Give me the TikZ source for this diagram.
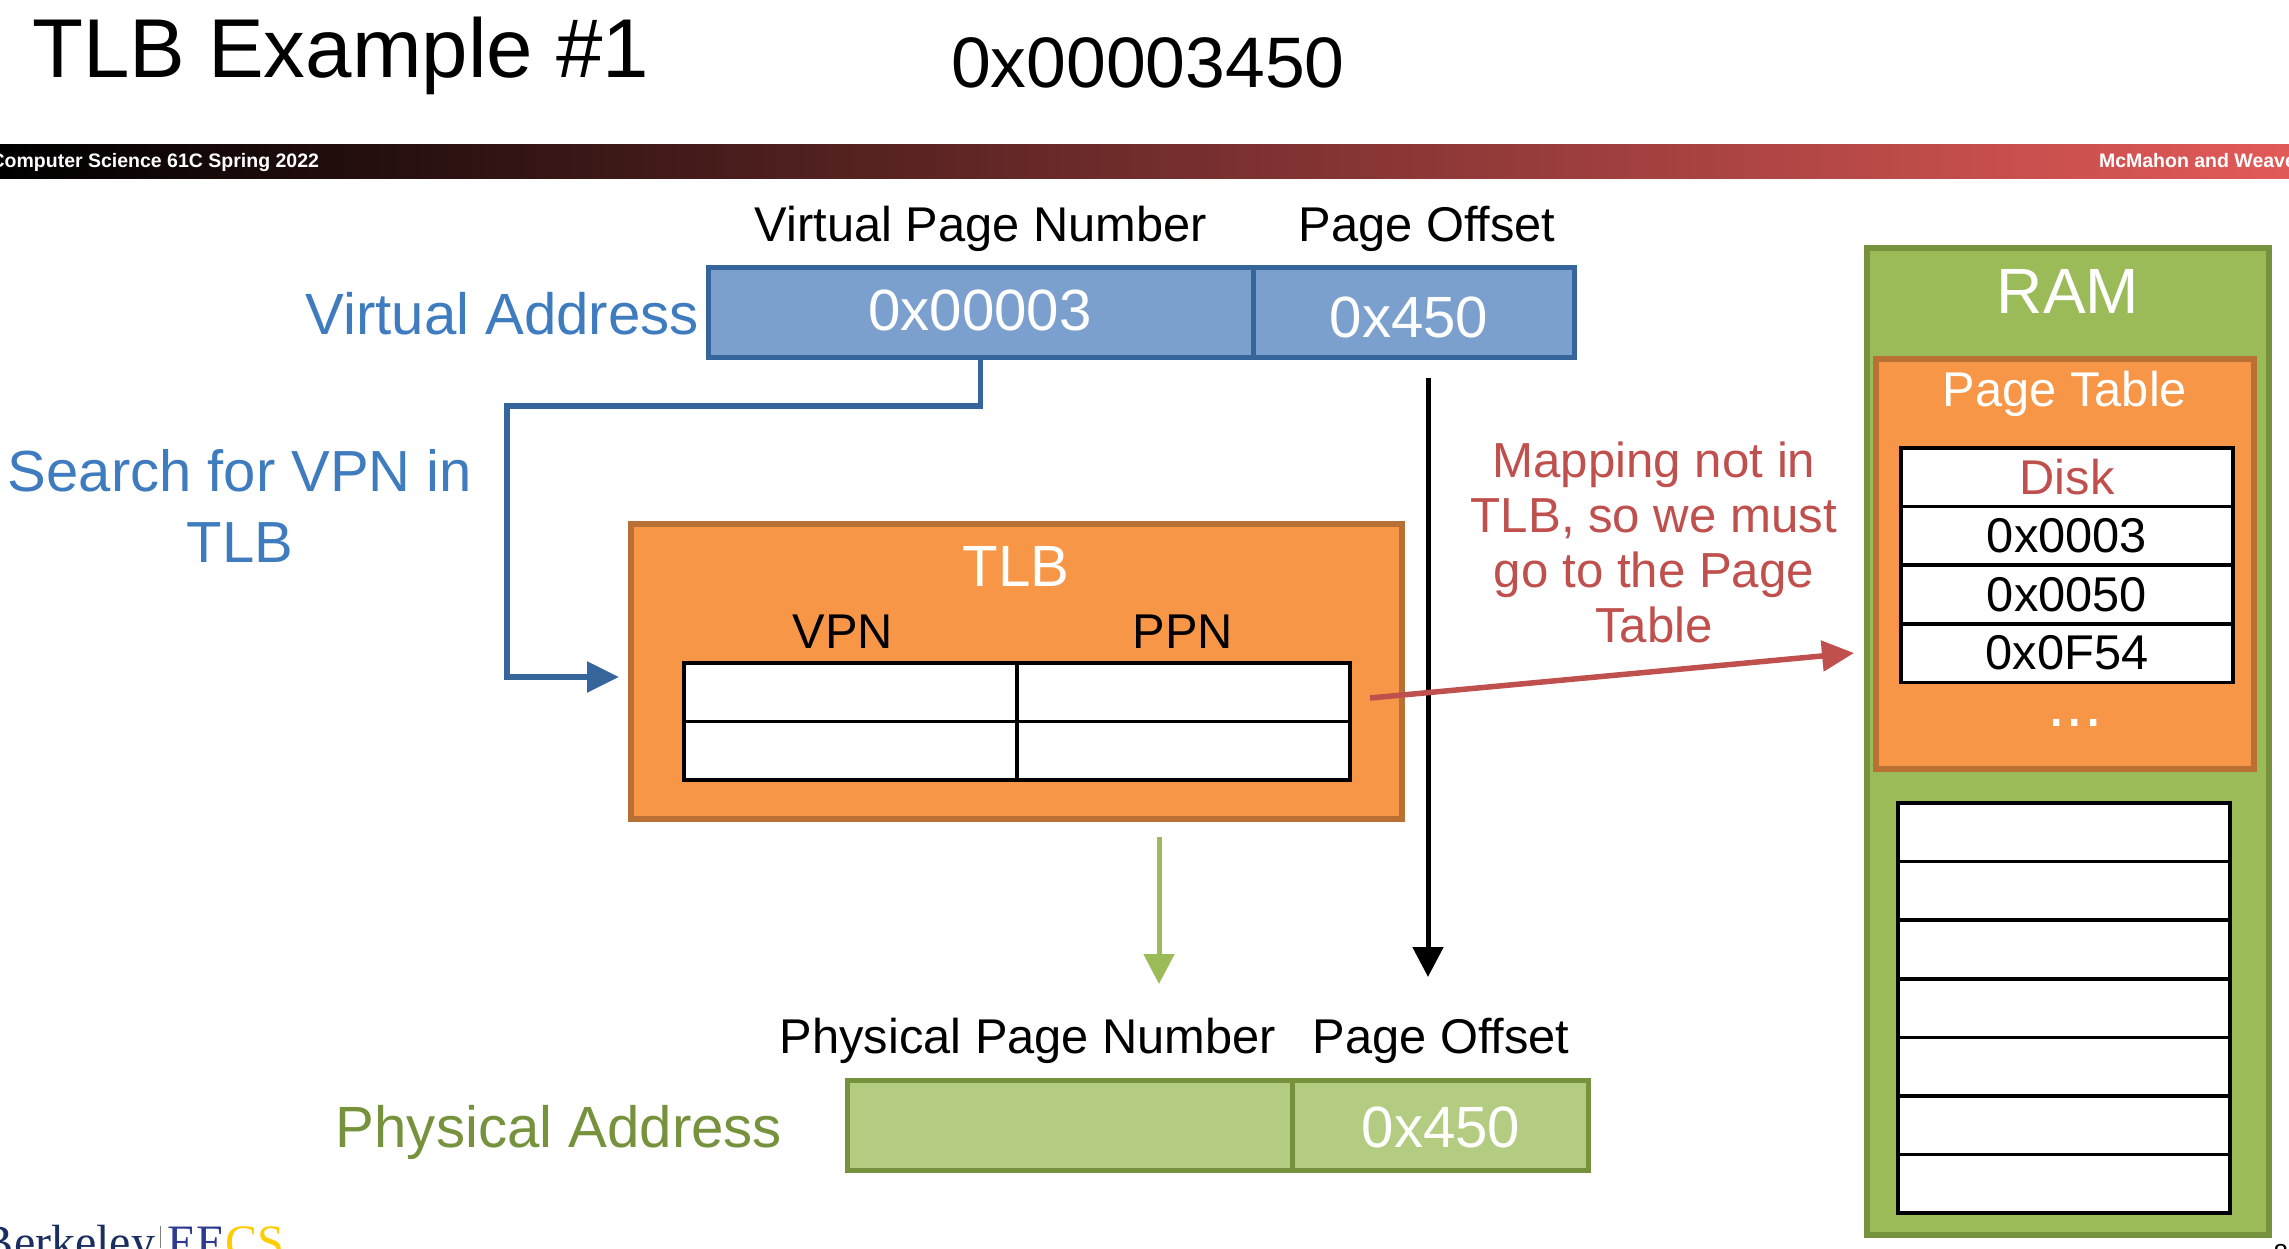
\documentclass[tikz,border=0pt]{standalone}
\usepackage{fontspec}
\setmainfont{Liberation Sans}
\newfontfamily\logofont{Liberation Serif}
\usepackage{xcolor}
\usetikzlibrary{arrows.meta, positioning}
\definecolor{vaBlue}{HTML}{7BA0CD}
\definecolor{vaEdge}{HTML}{35659A}
\definecolor{vaText}{HTML}{3F7CBF}
\definecolor{tlbOrange}{HTML}{F79646}
\definecolor{tlbEdge}{HTML}{B97034}
\definecolor{ramGreen}{HTML}{9BBB59}
\definecolor{ramEdge}{HTML}{76923C}
\definecolor{paGreen}{HTML}{B3CC82}
\definecolor{missRed}{HTML}{C0504D}
\definecolor{barRed}{HTML}{E25A58}
\definecolor{logoNavy}{HTML}{1A2F5F}
\definecolor{logoBlue}{HTML}{2E3A8F}
\definecolor{logoGold}{HTML}{FFCC00}

\begin{document}
\begin{tikzpicture}[
x=1pt, y=-1pt,
bigtext/.style={inner sep=0pt, outer sep=0pt, font=\fontsize{58.2}{71}\selectfont},
midtext/.style={inner sep=0pt, outer sep=0pt, font=\fontsize{48.8}{55}\selectfont},
bartext/.style={inner sep=0pt, outer sep=0pt, text=white, font=\fontsize{19.5}{24}\selectfont\bfseries},
logotext/.style={inner sep=0pt, outer sep=0pt, anchor=base west, font=\fontsize{48}{50}\selectfont\logofont},
vafield/.style={rectangle, draw=vaEdge, fill=vaBlue, line width=5pt, outer sep=0pt, inner sep=0pt, minimum height=90pt},
pafield/.style={rectangle, draw=ramEdge, fill=paGreen, line width=5pt, outer sep=0pt, inner sep=0pt, minimum height=90pt},
hugebox/.style={rectangle, line width=6pt, outer sep=0pt, inner sep=0pt},
tablecell/.style={rectangle, draw=black, fill=white, line width=3.5pt, outer sep=0pt, inner sep=0pt, minimum width=332pt, minimum height=58.6pt, font=\fontsize{48.8}{55}\selectfont}
]
	\clip (0,0) rectangle (2289,1248);
	\fill[white] (0,0) rectangle (2289,1248);

	\node[inner sep=0pt, outer sep=0pt, anchor=west, font=\fontsize{83.5}{90}\selectfont] (title) at (32,56) {TLB Example \#1};
	\node[inner sep=0pt, outer sep=0pt, font=\fontsize{71.5}{80}\selectfont] (addr) at (1148,63) {0x00003450};

	\node[rectangle, left color=black, right color=barRed, draw=none, outer sep=0pt, minimum width=2289pt, minimum height=34pt, anchor=north west] (bar) at (0,144) {};
	\node[bartext, anchor=east] (course) at (319,162) {Computer Science 61C Spring 2022};
	\node[bartext, anchor=west] (staff) at (2099,161) {McMahon and Weaver};

	\node[midtext] (vpnlabel) at (981,229) {Virtual Page Number};
	\node[midtext] (vpolabel) at (1427,229) {Page Offset};
	\node[vafield, minimum width=545pt, anchor=north west] (vpn) at (708,267) {};
	\node[vafield, minimum width=321pt, anchor=west] (vpo) at (vpn.east) {};
	\node[bigtext, text=white] (vpnvalue) at (980,310) {0x00003};
	\node[bigtext, text=white] (vpovalue) at (1409,317) {0x450};
	\node[bigtext, text=vaText, anchor=east] (valabel) at (699,314) {Virtual Address};
	\node[inner sep=0pt, outer sep=0pt, text=vaText, align=center, font=\fontsize{58}{71}\selectfont] (search) at (240,506) {Search for VPN in\\TLB};

	\node[hugebox, draw=tlbEdge, fill=tlbOrange, minimum width=771pt, minimum height=295pt, anchor=north west] (tlb) at (631,524) {};
	\node[bigtext, text=white] (tlbtitle) at (1016,566) {TLB};
	\node[midtext] (vpnhead) at (843,632) {VPN};
	\node[midtext] (ppnhead) at (1183,632) {PPN};
	\node[tablecell, minimum width=333pt, anchor=north west] (tlb1) at (684,663) {};
	\node[tablecell, minimum width=333pt, anchor=north west] (tlb2) at (tlb1.south west) {};
	\node[tablecell, minimum width=333pt, anchor=north west] (tlb3) at (tlb1.north east) {};
	\node[tablecell, minimum width=333pt, anchor=north west] (tlb4) at (tlb3.south west) {};

	\node[midtext] (ppnlabel) at (1028,1041) {Physical Page Number};
	\node[midtext] (ppolabel) at (1441,1041) {Page Offset};
	\node[pafield, minimum width=445pt, anchor=north west] (ppn) at (847,1080) {};
	\node[pafield, minimum width=296pt, anchor=west] (ppo) at (ppn.east) {};
	\node[bigtext, text=white] (ppovalue) at (1441,1127) {0x450};
	\node[bigtext, text=ramEdge] (palabel) at (559,1132) {Physical Address};

	\node[inner sep=0pt, outer sep=0pt, text=missRed, align=center, font=\fontsize{49.2}{55}\selectfont] (miss) at (1654,542) {Mapping not in\\TLB, so we must\\go to the Page\\Table};

	\node[hugebox, draw=ramEdge, fill=ramGreen, minimum width=402pt, minimum height=987pt, anchor=north west] (ram) at (1867,248) {};
	\node[inner sep=0pt, outer sep=0pt, text=white, font=\fontsize{64}{70}\selectfont] (ramtitle) at (2068,291) {RAM};
	\node[hugebox, draw=tlbEdge, fill=tlbOrange, minimum width=378pt, minimum height=410pt, anchor=north west] (pt) at (1876,359) {};
	\node[midtext, text=white] (pttitle) at (2065,394) {Page Table};
	\node[tablecell, text=missRed, anchor=north west] (pt1) at (1901,448) {Disk};
	\node[tablecell, anchor=north] (pt2) at (pt1.south) {0x0003};
	\node[tablecell, anchor=north] (pt3) at (pt2.south) {0x0050};
	\node[tablecell, anchor=north] (pt4) at (pt3.south) {0x0F54};
	\node[inner sep=0pt, outer sep=0pt, text=white, font=\fontsize{66}{70}\selectfont] (ptdots) at (2075,723) {...};

	\node[tablecell, anchor=north west] (mem1) at (1898,803) {};
	\node[tablecell, anchor=north] (mem2) at (mem1.south) {};
	\node[tablecell, anchor=north] (mem3) at (mem2.south) {};
	\node[tablecell, anchor=north] (mem4) at (mem3.south) {};
	\node[tablecell, anchor=north] (mem5) at (mem4.south) {};
	\node[tablecell, anchor=north] (mem6) at (mem5.south) {};
	\node[tablecell, anchor=north] (mem7) at (mem6.south) {};

	\node[logotext, text=logoNavy] (berkeley) at (-18,1258) {Berkeley};
	\draw[gray, line width=1pt] (160,1226) -- (160,1248);
	\node[logotext, text=logoBlue] (ee) at (167,1258) {EE};
	\node[logotext, text=logoGold] (cs) at (ee.base east) {CS};
	\node[inner sep=0pt, outer sep=0pt, anchor=base east, font=\fontsize{26}{30}\selectfont] (slideno) at (2288,1262) {8};

	\coordinate (bend) at (507,406);
	\coordinate (tlbin) at (619,677);
	\coordinate (offsettop) at (1428,378);
	\coordinate (offsetend) at (1428,977);
	\coordinate (ppnstart) at (1159,837);
	\coordinate (ppnend) at (1159,984);
	\coordinate (missstart) at (1370,698);
	\coordinate (missend) at (1854,653);

	\draw[draw=vaEdge, line width=5.5pt, -{Triangle[length=32pt,width=30pt]}] (vpn.south) |- (bend) |- (tlbin);
	\draw[draw=black, line width=5pt, -{Triangle[length=30pt,width=30pt]}] (offsettop) -- (offsetend);
	\draw[draw=ramGreen, line width=5pt, -{Triangle[length=30pt,width=30pt]}] (ppnstart) -- (ppnend);
	\draw[draw=missRed, line width=5.5pt, -{Triangle[length=32pt,width=30pt]}] (missstart) -- (missend);
\end{tikzpicture}
\end{document}
